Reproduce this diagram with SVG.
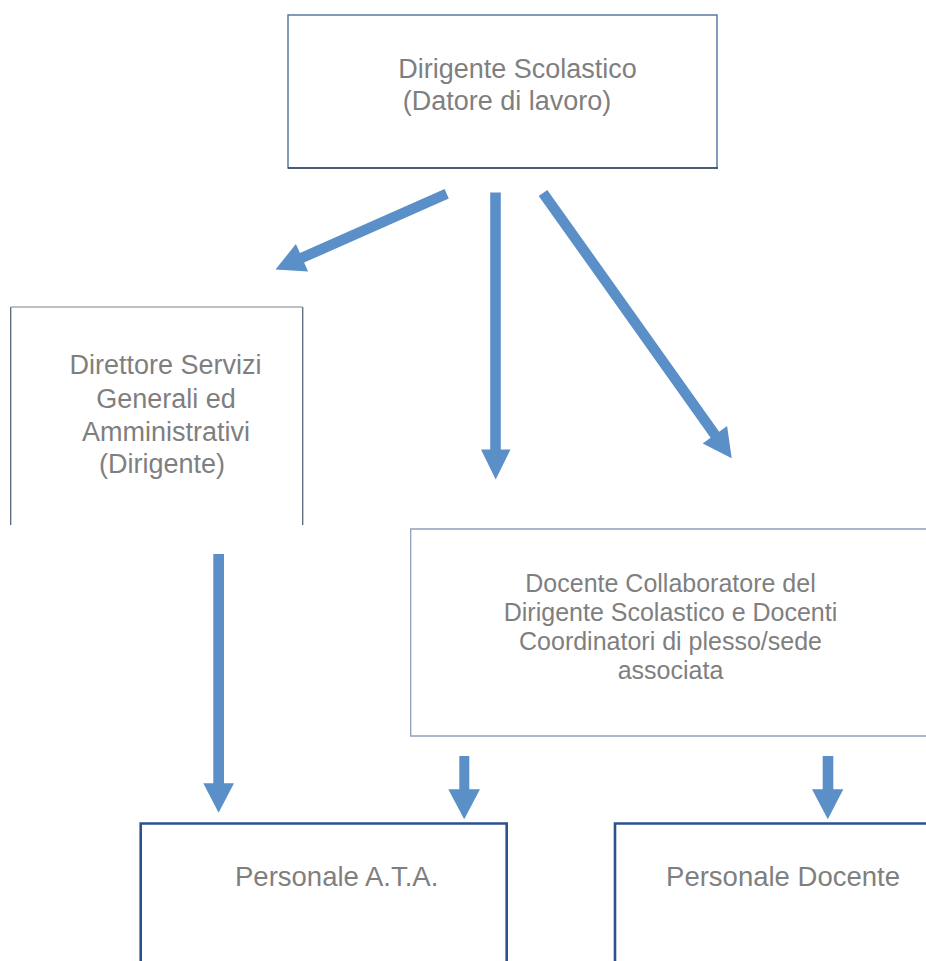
<svg xmlns="http://www.w3.org/2000/svg" width="926" height="961" viewBox="0 0 926 961">
<style>
.lbl{font-family:"Liberation Sans",Arial,sans-serif;fill:#7f7f7f;text-anchor:middle}
.big{font-size:27px}
.mid{font-size:25px}
.arrow{fill:#5b8fc8;stroke:none}
.thin{fill:#ffffff;stroke:#4f6fa0;stroke-width:1.4}
.light{fill:none;stroke:#8ea0ba;stroke-width:1.3}
.bold{fill:#ffffff;stroke:#2c518e;stroke-width:2.6}
</style>
<rect width="926" height="961" fill="#ffffff"/>

<g id="node-dirigente">
<rect class="thin" x="288" y="15" width="429" height="153"/>
<path d="M288 168 H718" fill="none" stroke="#34475f" stroke-width="1.6"/>
<text class="lbl big" x="517.5" y="77.5">Dirigente Scolastico</text>
<text class="lbl big" x="507" y="110">(Datore di lavoro)</text>
</g>

<g id="node-dsga">
<path d="M10.7 525 V307 M302.7 307 V525" fill="none" stroke="#55677a" stroke-width="1.3"/>
<path d="M10.7 307 H302.7" fill="none" stroke="#a3abb3" stroke-width="1.4"/>
<text class="lbl big" x="165.5" y="374">Direttore Servizi</text>
<text class="lbl big" x="166" y="407.5">Generali ed</text>
<text class="lbl big" x="166" y="441">Amministrativi</text>
<text class="lbl big" x="162" y="473">(Dirigente)</text>
</g>

<g id="node-collaboratori">
<path class="light" d="M930 529 H410.7 V736 H930"/>
<text class="lbl mid" x="670.5" y="591.7">Docente Collaboratore del</text>
<text class="lbl mid" x="670.5" y="620.7">Dirigente Scolastico e Docenti</text>
<text class="lbl mid" x="670.5" y="650">Coordinatori di plesso/sede</text>
<text class="lbl mid" x="670.5" y="679.3">associata</text>
</g>

<g id="node-ata">
<path class="bold" d="M140.7 970 V823.5 H506.7 V970"/>
<text class="lbl big" x="336.7" y="885.5" style="font-size:27.5px">Personale A.T.A.</text>
</g>

<g id="node-docente">
<path class="bold" d="M615 970 V823.5 H935"/>
<text class="lbl big" x="783" y="885.5" style="font-size:27.5px">Personale Docente</text>
</g>

<g id="connectors">
<polygon class="arrow" points="444.6,189 299.9,253 295.9,244.1 275.5,269.5 308.1,271.5 304.1,262.6 448.8,198.6"/>
<polygon class="arrow" points="490.2,192.5 500.8,192.5 500.8,449.5 510.5,449.5 495.7,479.5 481,449.5 490.2,449.5"/>
<polygon class="arrow" points="538.7,195.9 710.6,437.7 702.7,443.4 731.7,458.3 727.1,426 719.2,431.7 547.3,189.9"/>
<polygon class="arrow" points="213.3,554 224,554 224,783.3 234,783.3 218.6,812.7 203.3,783.3 213.3,783.3"/>
<polygon class="arrow" points="459.3,756 469.3,756 469.3,789.3 480,789.3 464.2,819.3 448.3,789.3 459.3,789.3"/>
<polygon class="arrow" points="822.7,756 833.3,756 833.3,789.3 843.3,789.3 827.8,819.3 812,789.3 822.7,789.3"/>
</g>
</svg>
